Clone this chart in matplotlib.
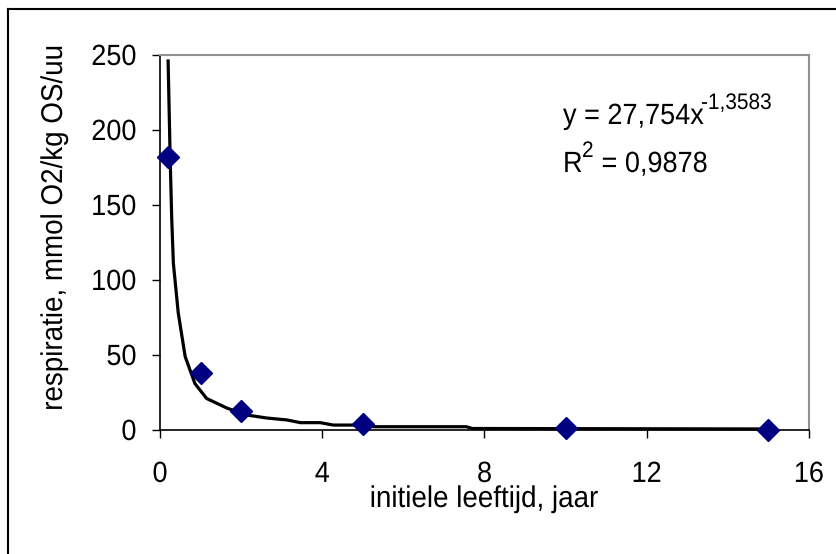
import matplotlib.pyplot as plt
from matplotlib.lines import Line2D
from matplotlib.patheffects import AbstractPathEffect
from matplotlib.transforms import Affine2D

plt.rcParams['font.family'] = ['Liberation Sans', 'DejaVu Sans']

# meetpunten
leeftijd = [0.2, 1, 2, 5, 10, 15]
respiratie = [182, 38, 13, 4, 1.3, 0.3]

# trendlijn
trend_x = [0.2, 0.25, 0.29, 0.33, 0.45, 0.62, 0.86, 1.15, 1.65, 2.14, 2.63,
           3.13, 3.46, 3.95, 4.27, 5.1, 5.26, 7.55, 7.7, 15]
trend_y = [246, 182, 140, 111, 78, 49, 31, 21, 14.6, 10, 8,
           6.7, 4.9, 4.9, 3.3, 3.3, 2.2, 2.2, 1.0, 0.7]

x_ticks = [0, 4, 8, 12, 16]
y_ticks = [0, 50, 100, 150, 200, 250]


# tekst in de excel-grafiek is iets hoger dan breed -> verticaal rekken
class Stretch(AbstractPathEffect):
    def __init__(self, s):
        super().__init__()
        self.s = s

    def draw_path(self, renderer, gc, tpath, affine, rgbFace=None):
        renderer.draw_path(gc, tpath, Affine2D().scale(1, self.s) + affine, rgbFace)


W, H = 837, 554
fig = plt.figure(figsize=(W / 100, H / 100), dpi=100)
ax = fig.add_axes([160 / W, 1 - 430 / H, (809 - 160) / W, (430 - 55) / H])

ax.plot(trend_x, trend_y, color='black', lw=2.3, zorder=2, clip_on=False)
ax.plot(leeftijd, respiratie, 'D', color='#000080', markersize=11,
        zorder=3, clip_on=False)

ax.set_xlim(0, 16)
ax.set_ylim(0, 250)
ax.set_xticks(x_ticks)
ax.set_yticks(y_ticks)
ax.tick_params(axis='both', direction='out', length=6, width=1,
               labelsize=19.5, color='black')
ax.tick_params(axis='x', pad=17)
ax.tick_params(axis='y', pad=11)

for s in ['left', 'bottom']:
    ax.spines[s].set_color('black')
    ax.spines[s].set_linewidth(1.2)
for s in ['top', 'right']:
    ax.spines[s].set_color('#909090')
    ax.spines[s].set_linewidth(1.5)

st = [Stretch(1.08)]

fig.text(484 / W, 1 - 507 / H, 'initiele leeftijd, jaar', fontsize=20,
         ha='center', va='baseline', path_effects=st)
fig.text(55 / W, 1 - 228 / H, 'respiratie, mmol O2/kg OS/uu', fontsize=20,
         ha='center', va='center', rotation=90, path_effects=st)

# vergelijking
fig.text(563 / W, 1 - 124 / H, 'y = 27,754x', fontsize=19.5,
         ha='left', va='baseline', path_effects=st)
fig.text(701 / W, 1 - 109 / H, '-1,3583', fontsize=15,
         ha='left', va='baseline', path_effects=st)
fig.text(563 / W, 1 - 172 / H, 'R', fontsize=19.5,
         ha='left', va='baseline', path_effects=st)
fig.text(582 / W, 1 - 157 / H, '2', fontsize=15,
         ha='left', va='baseline', path_effects=st)
fig.text(594 / W, 1 - 172 / H, ' = 0,9878', fontsize=19.5,
         ha='left', va='baseline', path_effects=st)

# rand om de figuur
fig.add_artist(Line2D([8 / W, 8 / W], [0, 1 - 9 / H], color='black',
                      lw=1.5, transform=fig.transFigure))
fig.add_artist(Line2D([8 / W, 1], [1 - 9 / H, 1 - 9 / H], color='black',
                      lw=1.5, transform=fig.transFigure))

fig.canvas.draw()
for lab in ax.get_xticklabels() + ax.get_yticklabels():
    lab.set_path_effects(st)

fig.savefig('out.png', dpi=100)
